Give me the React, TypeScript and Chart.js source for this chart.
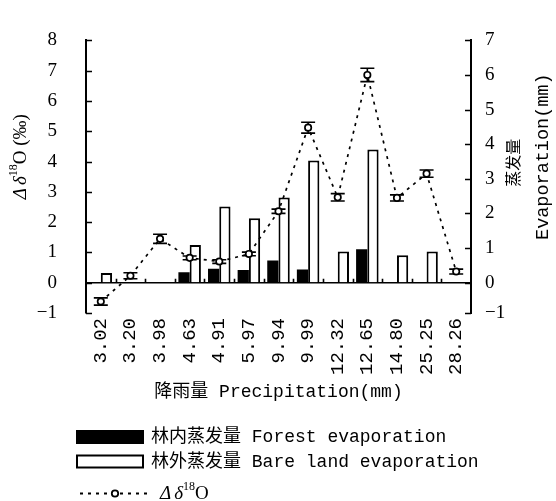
import React, { useEffect, useRef } from 'react';
import { Chart, registerables } from 'chart.js';

Chart.register(...registerables);

// ---- data ----
const categories = ['3.02', '3.20', '3.98', '4.63', '4.91', '5.97', '9.94', '9.99', '12.32', '12.65', '14.80', '25.25', '28.26'];
const forestEvap = [0, null, null, 0.3, 0.4, 0.37, 0.64, 0.38, 0, 0.97, 0, 0, null];
const bareEvap = [0.28, null, null, 1.09, 2.2, 1.86, 2.46, 3.53, 0.9, 3.85, 0.79, 0.9, null];
const delta18O = [-0.62, 0.23, 1.45, 0.82, 0.7, 0.95, 2.36, 5.12, 2.82, 6.86, 2.8, 3.6, 0.37];
const delta18OErr = [0.12, 0.1, 0.15, 0.06, 0.06, 0.06, 0.07, 0.18, 0.12, 0.22, 0.1, 0.12, 0.08];
const leftTicks = [-1, 0, 1, 2, 3, 4, 5, 6, 7, 8];
const rightTickValues = [-0.875, 0, 1, 2, 3, 4, 5, 6, 7];
const rightTickLabels = ['\u22121', '0', '1', '2', '3', '4', '5', '6', '7'];

const xTitle = '降雨量 Precipitation(mm)';
const rightTitle1 = '蒸发量';
const rightTitle2 = 'Evaporation(mm)';
const legendForest = '林内蒸发量 Forest evaporation';
const legendBare = '林外蒸发量 Bare land evaporation';

const MONO = "'Liberation Mono', 'Noto Sans CJK SC'";
const SERIF = "'Liberation Serif', 'DejaVu Serif'";

function drawDeltaLabel(ctx: CanvasRenderingContext2D, x: number, y: number, size: number, tail: string, align: 'center' | 'left') {
  const parts: { t: string; f: string; dy: number; gap: number }[] = [
    { t: 'Δ', f: `italic ${size}px ${SERIF}`, dy: 0, gap: 3 },
    { t: 'δ', f: `italic ${size}px ${SERIF}`, dy: 0, gap: 0 },
    { t: '18', f: `${Math.round(size * 0.65)}px ${SERIF}`, dy: -size * 0.38, gap: 0 },
    { t: 'O' + tail, f: `${size}px ${SERIF}`, dy: 0, gap: 0 },
  ];
  let total = 0;
  for (const p of parts) {
    ctx.font = p.f;
    total += ctx.measureText(p.t).width + p.gap;
  }
  let cx = align === 'center' ? x - total / 2 : x;
  ctx.textAlign = 'left';
  ctx.textBaseline = 'middle';
  for (const p of parts) {
    ctx.font = p.f;
    ctx.fillText(p.t, cx, y + p.dy);
    cx += ctx.measureText(p.t).width + p.gap;
  }
}

const decorPlugin = {
  id: 'decor',
  beforeDatasetDraw(chart: any, args: any) {
    if (args.index !== 0) return;
    const ctx = chart.ctx as CanvasRenderingContext2D;
    const yS = chart.scales.y;
    const meta = chart.getDatasetMeta(0);
    ctx.save();
    ctx.strokeStyle = '#000';
    ctx.lineWidth = 1.6;
    meta.data.forEach((pt: any, i: number) => {
      const v = delta18O[i];
      const e = delta18OErr[i];
      const yt = yS.getPixelForValue(v + e);
      const yb = yS.getPixelForValue(v - e);
      ctx.beginPath();
      ctx.moveTo(pt.x, yt);
      ctx.lineTo(pt.x, yb);
      ctx.moveTo(pt.x - 7, yt);
      ctx.lineTo(pt.x + 7, yt);
      ctx.moveTo(pt.x - 7, yb);
      ctx.lineTo(pt.x + 7, yb);
      ctx.stroke();
    });
    ctx.restore();
  },
  afterDraw(chart: any) {
    const ctx = chart.ctx as CanvasRenderingContext2D;
    const { left, right, top, bottom } = chart.chartArea;
    const yS = chart.scales.y;
    const y1S = chart.scales.y1;
    const xS = chart.scales.x;
    ctx.save();
    ctx.strokeStyle = '#000';
    ctx.fillStyle = '#000';
    ctx.lineWidth = 1.6;
    // inward ticks
    ctx.beginPath();
    yS.ticks.forEach((t: any) => {
      const py = Math.round(yS.getPixelForValue(t.value)) + 0.5;
      ctx.moveTo(left, py);
      ctx.lineTo(left + 6, py);
    });
    y1S.ticks.forEach((t: any) => {
      const py = Math.round(y1S.getPixelForValue(t.value)) + 0.5;
      ctx.moveTo(right, py);
      ctx.lineTo(right - 6, py);
    });
    // small ticks on zero line at category boundaries
    const y0 = yS.getPixelForValue(0);
    for (let i = 1; i < categories.length; i++) {
      const px = Math.round((xS.getPixelForValue(i - 1) + xS.getPixelForValue(i)) / 2) + 0.5;
      ctx.moveTo(px, y0);
      ctx.lineTo(px, y0 - 4);
    }
    ctx.stroke();

    // left axis title (rotated)
    ctx.save();
    ctx.translate(21, (top + bottom) / 2 - 20);
    ctx.rotate(-Math.PI / 2);
    drawDeltaLabel(ctx, 0, 0, 19, ' (‰)', 'center');
    ctx.restore();

    // right axis titles (rotated, reading bottom to top)
    ctx.save();
    ctx.translate(513, (top + bottom) / 2 - 14);
    ctx.rotate(-Math.PI / 2);
    ctx.font = `16px 'Noto Sans CJK SC'`;
    ctx.textAlign = 'center';
    ctx.textBaseline = 'middle';
    ctx.fillText(rightTitle1, 0, 0);
    ctx.restore();
    ctx.save();
    ctx.translate(543, (top + bottom) / 2 - 20);
    ctx.rotate(-Math.PI / 2);
    ctx.font = `18.5px ${MONO}`;
    ctx.textAlign = 'center';
    ctx.textBaseline = 'middle';
    ctx.fillText(rightTitle2, 0, 0);
    ctx.restore();

    // legend
    ctx.textAlign = 'left';
    ctx.textBaseline = 'middle';
    ctx.fillStyle = '#000';
    ctx.fillRect(76, 430, 68, 14);
    ctx.font = `18px ${MONO}`;
    ctx.fillText(legendForest, 151, 437);
    ctx.fillStyle = '#fff';
    ctx.fillRect(77, 455.5, 66, 12);
    ctx.lineWidth = 2;
    ctx.strokeRect(77, 455.5, 66, 12);
    ctx.fillStyle = '#000';
    ctx.fillText(legendBare, 151, 462);
    ctx.lineWidth = 1.8;
    ctx.setLineDash([3, 5]);
    ctx.beginPath();
    ctx.moveTo(80, 493.5);
    ctx.lineTo(148, 493.5);
    ctx.stroke();
    ctx.setLineDash([]);
    ctx.beginPath();
    ctx.arc(115, 493.5, 3.2, 0, Math.PI * 2);
    ctx.fillStyle = '#fff';
    ctx.fill();
    ctx.stroke();
    ctx.fillStyle = '#000';
    drawDeltaLabel(ctx, 160, 494, 19, '', 'left');
    ctx.restore();
  },
};

export default function App() {
  const ref = useRef<HTMLCanvasElement | null>(null);
  useEffect(() => {
    if (!ref.current) return;
    const chart = new Chart(ref.current, {
      type: 'bar',
      data: {
        labels: categories,
        datasets: [
          {
            type: 'line',
            label: 'Δδ18O',
            data: delta18O,
            yAxisID: 'y',
            borderColor: '#000',
            borderWidth: 1.7,
            borderDash: [3, 5],
            pointRadius: 3.2,
            pointBorderWidth: 1.7,
            pointBackgroundColor: '#fff',
            pointBorderColor: '#000',
            tension: 0,
            order: 0,
          } as any,
          {
            label: 'Forest evaporation',
            data: forestEvap,
            yAxisID: 'y1',
            backgroundColor: '#000',
            borderColor: '#000',
            borderWidth: 0,
            categoryPercentage: 0.76,
            barPercentage: 1,
            order: 1,
          },
          {
            label: 'Bare land evaporation',
            data: bareEvap,
            yAxisID: 'y1',
            backgroundColor: '#fff',
            borderColor: '#000',
            borderWidth: 2,
            categoryPercentage: 0.76,
            barPercentage: 1,
            order: 1,
          },
        ],
      },
      options: {
        responsive: true,
        maintainAspectRatio: false,
        animation: false,
        layout: { padding: { top: 20, bottom: 98, left: 0, right: 0 } },
        plugins: { legend: { display: false }, tooltip: { enabled: false } },
        scales: {
          x: {
            offset: true,
            grid: { display: false, drawTicks: false },
            border: { display: false },
            ticks: {
              autoSkip: false,
              maxRotation: 90,
              minRotation: 90,
              padding: 5,
              color: '#000',
              font: { family: "'Liberation Mono'", size: 19 },
            },
            title: {
              display: true,
              text: xTitle,
              color: '#000',
              padding: 0,
              font: { family: MONO, size: 18 },
            },
            afterFit: (s: any) => { s.height = 90; },
          },
          y: {
            position: 'left',
            min: -1,
            max: 8,
            afterBuildTicks: (s: any) => { s.ticks = leftTicks.map((v) => ({ value: v })); },
            ticks: {
              padding: 29,
              color: '#000',
              font: { family: SERIF, size: 19 },
              callback: (v: any) => (Number(v) < 0 ? '\u2212' + Math.abs(Number(v)) : String(v)),
            },
            grid: {
              drawTicks: false,
              lineWidth: 1.6,
              color: (c: any) => (c.tick && c.tick.value === 0 ? '#000' : 'rgba(0,0,0,0)'),
            },
            border: { display: true, color: '#000', width: 2 },
            afterFit: (s: any) => { s.width = 86; },
          },
          y1: {
            position: 'right',
            min: -0.875,
            max: 7,
            afterBuildTicks: (s: any) => { s.ticks = rightTickValues.map((v) => ({ value: v })); },
            ticks: {
              padding: 14,
              color: '#000',
              font: { family: SERIF, size: 19 },
              callback: (_v: any, i: number) => rightTickLabels[i],
            },
            grid: { drawOnChartArea: false, drawTicks: false },
            border: { display: true, color: '#000', width: 2 },
            afterFit: (s: any) => { s.width = 85; },
          },
        },
      },
      plugins: [decorPlugin],
    });
    return () => chart.destroy();
  }, []);
  return (
    <div style={{ position: 'fixed', left: 0, top: 0, width: 556, height: 501, background: '#fff' }}>
      <canvas ref={ref} />
    </div>
  );
}
